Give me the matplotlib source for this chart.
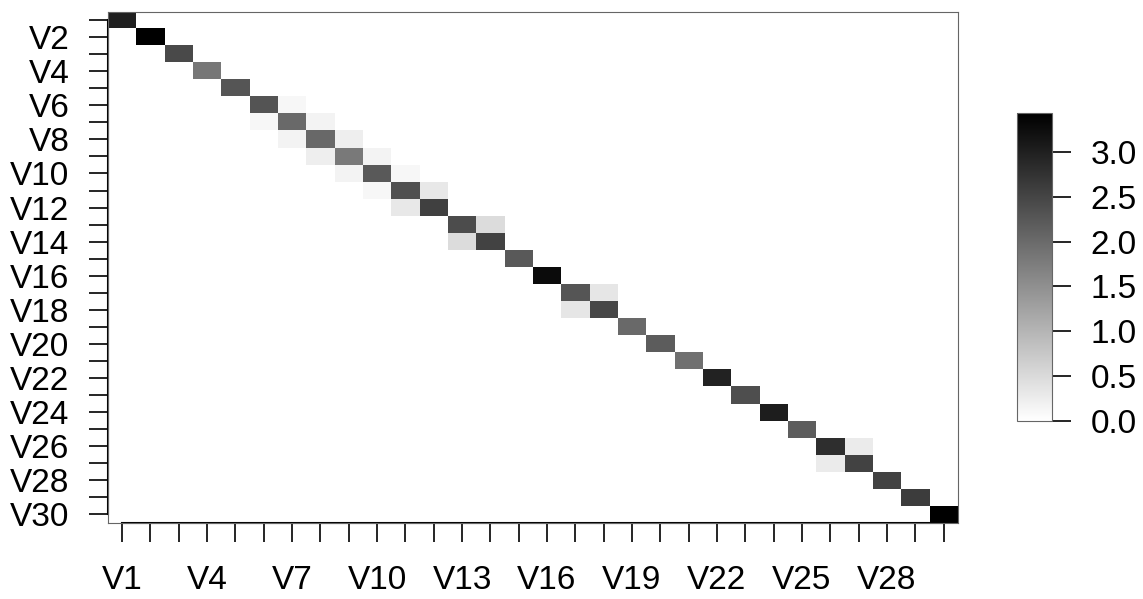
import numpy as np
import matplotlib.pyplot as plt
from matplotlib.colors import LinearSegmentedColormap

plt.rcParams["font.family"] = ["Liberation Sans", "DejaVu Sans"]

# variable names V1..V30
names = [f"V{i}" for i in range(1, 31)]

# diagonal entries
diag_values = [2.98, 3.41, 2.43, 1.83, 2.29, 2.30, 2.00, 2.03, 1.79, 2.22,
               2.35, 2.57, 2.41, 2.52, 2.22, 3.28, 2.29, 2.49, 2.00, 2.19,
               1.92, 2.96, 2.38, 3.04, 2.18, 2.81, 2.52, 2.52, 2.62, 3.43]

# symmetric off-diagonal entries (1-based row, col, value)
off_rows = [6, 7, 8, 9, 10, 11, 13, 17, 26]
off_cols = [7, 8, 9, 10, 11, 12, 14, 18, 27]
off_values = [0.11, 0.17, 0.23, 0.17, 0.12, 0.31, 0.47, 0.34, 0.28]

n = len(names)
mat = np.diag(diag_values)
for r, c, v in zip(off_rows, off_cols, off_values):
    mat[r - 1, c - 1] = v
    mat[c - 1, r - 1] = v

cmap = LinearSegmentedColormap.from_list("wb", ["white", "black"])
vmax = mat.max()

fig = plt.figure(figsize=(11.43, 5.99), dpi=100)
ax = fig.add_axes([0.0945, 0.1274, 0.7434, 0.8531])
im = ax.imshow(mat, cmap=cmap, vmin=0, vmax=vmax, interpolation="nearest",
               aspect="auto", extent=(0.5, n + 0.5, n + 0.5, 0.5))

for side in ["top", "right", "bottom", "left"]:
    ax.spines[side].set_color("#666666")
    ax.spines[side].set_linewidth(0.8)

pos = np.arange(1, n + 1)
ax.set_xticks(pos)
ax.set_xticklabels([names[i] if i % 3 == 0 else "" for i in range(n)])
ax.set_yticks(pos)
ax.set_yticklabels([names[i] if i % 2 == 1 else "" for i in range(n)])
ax.tick_params(axis="both", direction="out", length=13.7, width=1.2,
               labelsize=24, color="black")
ax.tick_params(axis="x", pad=17)
ax.tick_params(axis="y", pad=14)

# axis lines spanning the first to last tick
ax.plot([1, n], [n + 0.5, n + 0.5], color="black", lw=1.5, clip_on=False)
ax.plot([0.5, 0.5], [1, n], color="black", lw=1.5, clip_on=False)

cax = fig.add_axes([0.8895, 0.2972, 0.0311, 0.5137])
cb = fig.colorbar(im, cax=cax, ticks=[0.0, 0.5, 1.0, 1.5, 2.0, 2.5, 3.0])
cb.ax.set_yticklabels(["0.0", "0.5", "1.0", "1.5", "2.0", "2.5", "3.0"])
cb.ax.tick_params(length=13.7, width=1.2, labelsize=24, pad=14)
cb.outline.set_edgecolor("#666666")
cb.outline.set_linewidth(0.8)

fig.savefig("out.png", dpi=100)
